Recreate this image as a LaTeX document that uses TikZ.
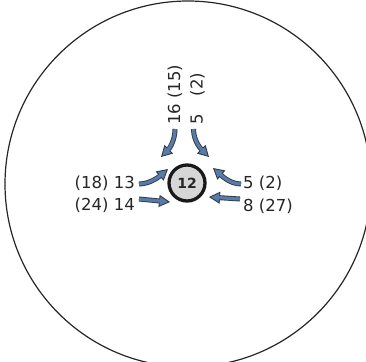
\documentclass[tikz,border=0pt]{standalone}
\usepackage{fontspec}
\setmainfont{DejaVu Sans}
\usetikzlibrary{arrows.meta}
\definecolor{arrowblue}{HTML}{5A7BA5}
\definecolor{arrowdark}{HTML}{2E3B4E}
\definecolor{hubgray}{HTML}{D6D6D6}
\begin{document}
\begin{tikzpicture}[x=1pt,y=-1pt,
  lbl/.style={font=\fontsize{16.5}{18}\selectfont, text=black!85, inner sep=0pt},
  blk/.style={preaction={draw=arrowdark, line width=5pt, shorten >=0pt,
      -{Triangle[width=12pt,length=11pt,fill=arrowblue,line width=0.9pt]}},
    draw=arrowblue, line width=3.2pt, shorten >=9pt, line cap=butt}]
\useasboundingbox (0,0) rectangle (366,361);
\begin{scope}
\clip (0,0) rectangle (366,361);
\node[circle, draw=black!85, line width=1.2pt, minimum size=366pt, inner sep=0pt] (outer) at (188,184) {};
\end{scope}
\node[circle, draw=black!90, line width=3.3pt, fill=hubgray, minimum size=36pt, inner sep=0pt,
  font=\bfseries\fontsize{14}{16}\selectfont, text=black!85] (hub) at (187,183) {12};
\node[lbl, anchor=east] (l13) at (135,183) {(18) 13};
\node[lbl, anchor=east] (l14) at (135,205.5) {(24) 14};
\node[lbl, anchor=west] (r5) at (243,183) {5 (2)};
\node[lbl, anchor=west] (r8) at (243,206) {8 (27)};
\node[lbl, rotate=90, anchor=west] (t16) at (175,125) {16 (15)};
\node[lbl, rotate=90, anchor=west] (t5) at (197.5,125) {5\hspace{18pt}(2)};
\draw[blk] ([shift={(0,4)}]t16.west) .. controls +(0,13) and +(7,-7) .. ([shift={(-26,-26)}]hub.center);
\draw[blk] ([shift={(-4,4)}]t5.west) .. controls +(0,13) and +(-7,-7) .. ([shift={(22,-26)}]hub.center);
\draw[blk] ([shift={(4,1)}]l13.east) .. controls +(12,0) and +(-7,6) .. ([shift={(-19,-14)}]hub.center);
\draw[blk] ([shift={(4,-6.5)}]l14.east) -- ([shift={(-17,19)}]hub.center);
\draw[blk] ([shift={(-2,1)}]r5.west) .. controls +(-12,0) and +(7,6) .. ([shift={(26,-15)}]hub.center);
\draw[blk] ([shift={(-3,-7)}]r8.west) -- ([shift={(22,14)}]hub.center);
\end{tikzpicture}
\end{document}
